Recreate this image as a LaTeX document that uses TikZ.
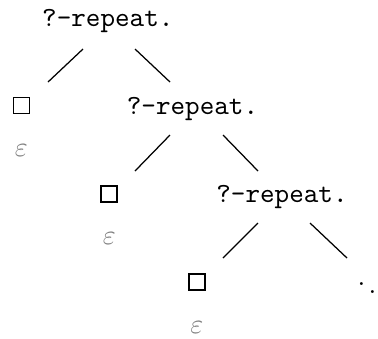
\documentclass[tikz,border=0pt]{standalone}
\usetikzlibrary{calc}
\begin{document}
\begin{tikzpicture}[x=0.36pt,y=-0.36pt,
  rep/.style={font=\ttfamily, inner sep=0pt, anchor=base},
  hole/.style={draw, line width=0.45pt, minimum size=5.7pt, inner sep=0pt},
  eps/.style={text=gray, inner sep=0pt},
  edge/.style={line width=0.45pt}]
\useasboundingbox (0,0) rectangle (378,338);
\clip (0,0) rectangle (378,338);
% level 1
\node[rep] (r1) at (107.8,26) {?-repeat.};
\node[hole] (b1) at (21.3,105.7) {};
\node[eps] (e1) at (21.3,150.7) {$\varepsilon$};
% level 2
\node[rep] (r2) at (192.5,114.5) {?-repeat.};
\node[hole] (b2) at (109,194) {};
\node[eps] (e2) at (109.3,239) {$\varepsilon$};
% level 3
\node[rep] (r3) at (282,202.5) {?-repeat.};
\node[hole] (b3) at (197,282) {};
\node[eps] (e3) at (196.8,327.5) {$\varepsilon$};
\node[inner sep=0pt, anchor=base west] (d) at (355.6,305) {$\ddots$};
% edges
\draw[edge] ($(r1.base)+(-24.8,23)$) -- ($(b1)+(26.7,-23.7)$);
\draw[edge] ($(r1.base)+(27.2,23)$) -- ($(r2.base)+(-22.5,-32.5)$);
\draw[edge] ($(r2.base)+(-22.5,20.5)$) -- ($(b2)+(26,-23)$);
\draw[edge] ($(r2.base)+(30.5,20.5)$) -- ($(r3.base)+(-24,-31.5)$);
\draw[edge] ($(r3.base)+(-24,20.5)$) -- ($(b3)+(26,-24)$);
\draw[edge] ($(r3.base)+(28,20.5)$) -- ($(d.base west)+(-8.6,-47)$);
\end{tikzpicture}
\end{document}
